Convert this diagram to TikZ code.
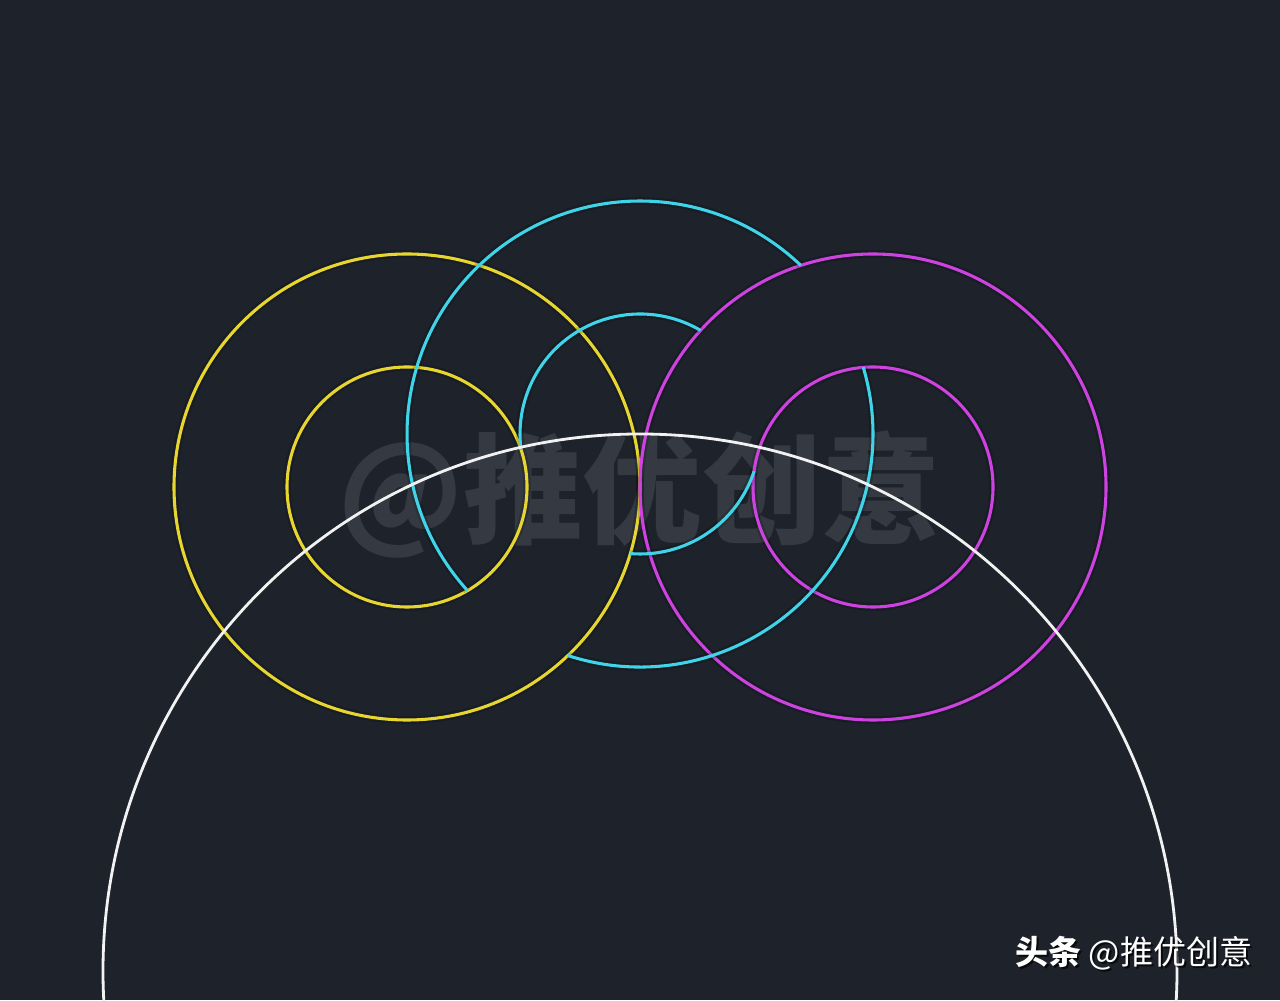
\documentclass[tikz,border=0pt]{standalone}
\usepackage{fontspec}
\newfontfamily\cjk{Noto Sans CJK SC}
\definecolor{bg}{RGB}{29,34,43}
\definecolor{ylw}{RGB}{232,214,48}
\definecolor{cyn}{RGB}{64,212,232}
\definecolor{mgn}{RGB}{206,66,224}
\definecolor{wht}{RGB}{242,242,242}
\definecolor{wm}{RGB}{52,57,66}
\tikzset{
  ring/.style={line width=1.75pt, preaction={draw, line width=4.4pt, draw opacity=0.16}},
  yring/.style={ring, draw=ylw},
  cring/.style={ring, draw=cyn},
  mring/.style={ring, draw=mgn},
  wring/.style={line width=1.6pt, draw=wht},
}
\begin{document}
\begin{tikzpicture}[x=0.02cm, y=0.02cm]
  \fill[bg] (0,0) rectangle (1280,1000);
  \useasboundingbox (0,0) rectangle (1280,1000);
  \clip (0,0) rectangle (1280,1000);
  \coordinate (Y) at (407,513);
  \coordinate (C) at (640,566);
  \coordinate (M) at (873,513);
  \coordinate (W) at (640,29);
  % watermark
  \node[text=wm, inner sep=0pt] (wmk) at (640,506) {\cjk\bfseries\fontsize{68}{70}\selectfont @推优创意};
  % yellow ring
  \draw[yring] (Y) circle[radius=233];
  \draw[yring] (Y) circle[radius=120];
  % magenta ring
  \draw[mring] (M) circle[radius=233];
  \draw[mring] (M) circle[radius=120];
  % cyan ring (partly hidden)
  \draw[cring] ([shift={(46.35:233)}]C) arc[start angle=46.35, end angle=222.25, radius=233];
  \draw[cring] ([shift={(251.95:233)}]C) arc[start angle=251.95, end angle=376.65, radius=233];
  \draw[cring] ([shift={(59.73:120)}]C) arc[start angle=59.73, end angle=187.58, radius=120];
  \draw[cring] ([shift={(265.35:120)}]C) arc[start angle=265.35, end angle=341.95, radius=120];
  % white circle
  \draw[wring] (W) circle[radius=537];
  % credit
  \node[anchor=west, text=black, opacity=0.7, inner sep=0pt] at (1017,45) {\cjk\fontsize{18.8}{22}\selectfont{\bfseries 头条} @推优创意};
  \node[anchor=west, text=white, inner sep=0pt] (credit) at (1015,47) {\cjk\fontsize{18.8}{22}\selectfont{\bfseries 头条} @推优创意};
\end{tikzpicture}
\end{document}
